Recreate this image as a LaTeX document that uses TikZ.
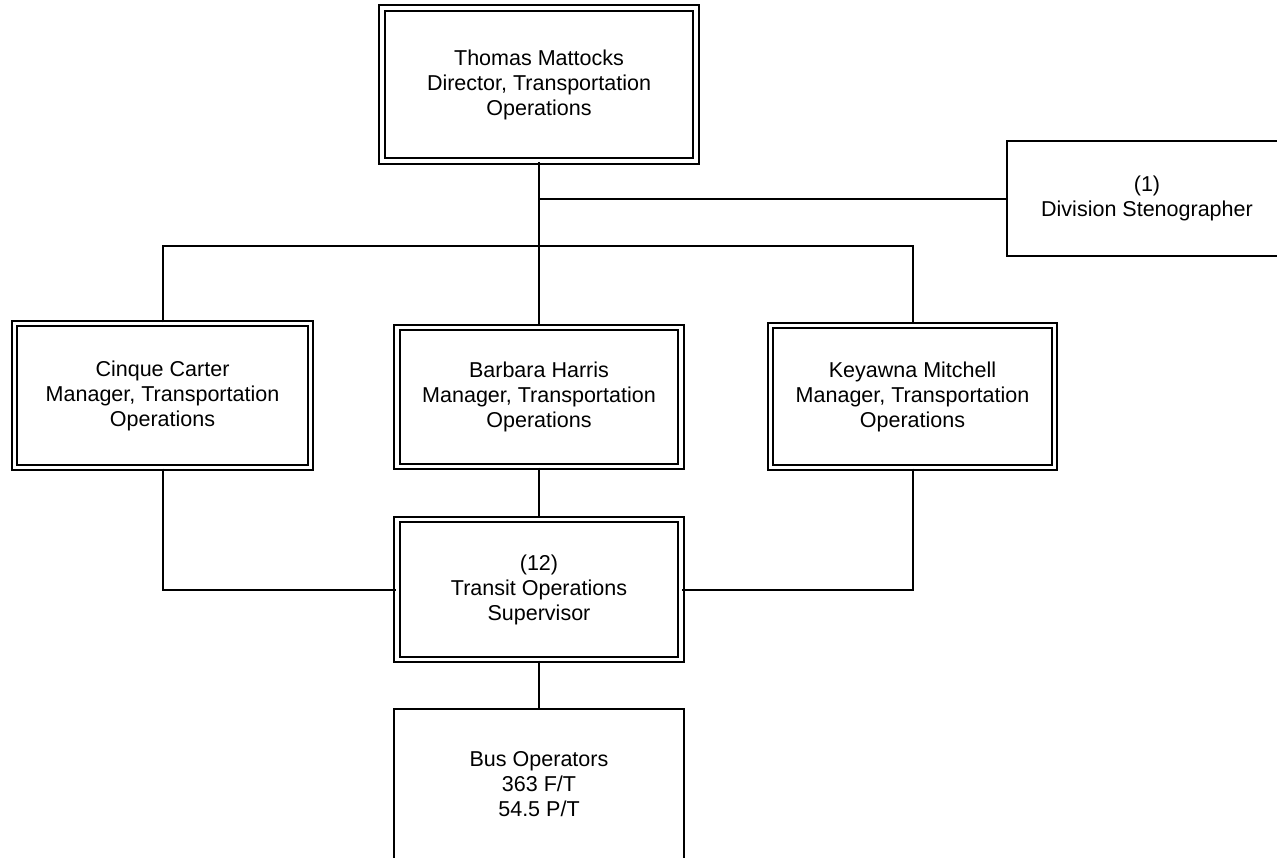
\documentclass[tikz,border=0pt]{standalone}
\usepackage{fontspec}
\setmainfont{Liberation Sans}
\newcommand\orgfont{\fontsize{15.3pt}{17.8pt}\selectfont}

\begin{document}
\begin{tikzpicture}[x=0.025cm,y=-0.025cm,line width=0.05cm,
  box/.style={draw,align=center,inner sep=0pt,font=\orgfont},
  dbox/.style={box,double,double distance=0.0875cm}]
  \useasboundingbox (0,0) rectangle (1277,857);
  \clip (0,0) rectangle (1277,857);
  \node[dbox,minimum width=7.85cm,minimum height=3.83cm] (dir) at (539,84.5) {Thomas Mattocks\\Director, Transportation\\Operations};
  \node[box,minimum width=7cm,minimum height=2.875cm] (steno) at (1147,198.5) {(1)\\Division Stenographer};
  \node[dbox,minimum width=7.4cm,minimum height=3.6cm] (carter) at (162.5,395.5) {Cinque Carter\\Manager, Transportation\\Operations};
  \node[dbox,minimum width=7.1cm,minimum height=3.475cm] (harris) at (539,397) {Barbara Harris\\Manager, Transportation\\Operations};
  \node[dbox,minimum width=7.1cm,minimum height=3.55cm] (mitchell) at (912.5,396.5) {Keyawna Mitchell\\Manager, Transportation\\Operations};
  \node[dbox,minimum width=7.1cm,minimum height=3.5cm] (super) at (539,589.5) {(12)\\Transit Operations\\Supervisor};
  \node[box,minimum width=7.225cm,minimum height=3.75cm] (bus) at (539,784) {Bus Operators\\363 F/T\\54.5 P/T};
  \coordinate (bar) at (539,246);
  \draw (dir.south) |- (steno.west);
  \draw (dir.south) -- (harris.north);
  \draw (carter.north) |- (bar) -| (mitchell.north);
  \draw (harris.south) -- (super.north);
  \draw (carter.south) |- (super.west);
  \draw (mitchell.south) |- (super.east);
  \draw (super.south) -- (bus.north);
\end{tikzpicture}
\end{document}
